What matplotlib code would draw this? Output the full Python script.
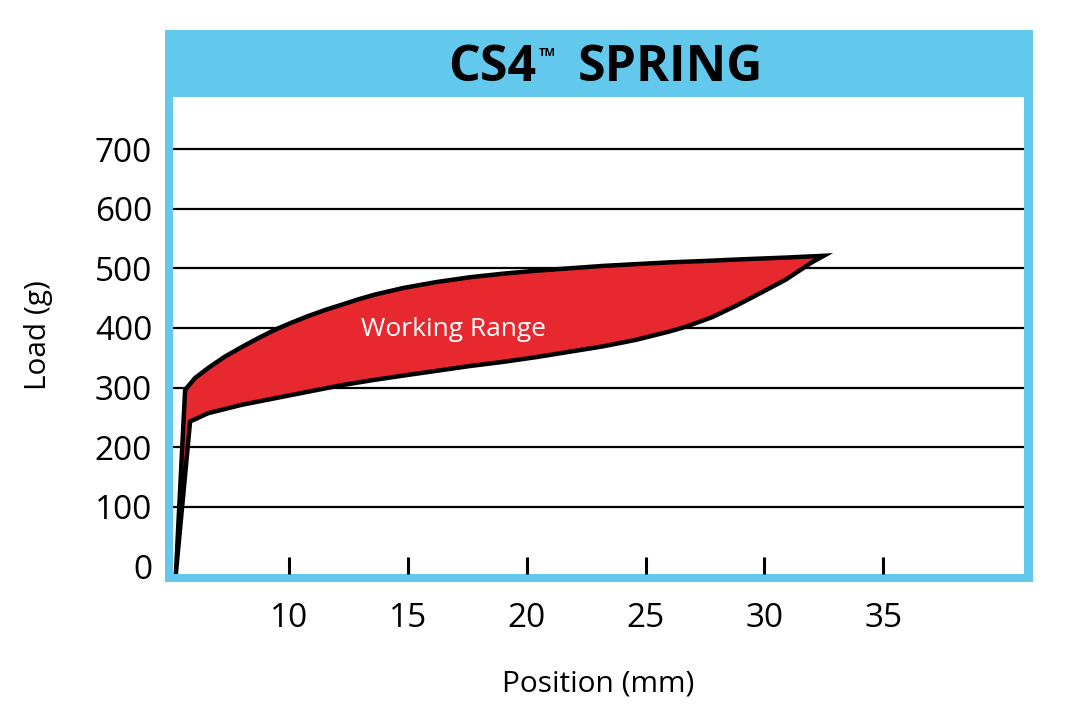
import numpy as np
import matplotlib
matplotlib.use('Agg')
import matplotlib.pyplot as plt
from matplotlib.patches import Rectangle

# load curves of the spring
upper_x = [5.61, 6.03, 6.59, 7.29, 8.00, 8.70, 9.40, 10.10, 10.80, 11.50, 12.21, 12.91, 13.61,
           14.8, 16.2, 17.6, 19.0, 20.4, 21.8, 23.2, 24.6, 26.0, 27.3, 29.0, 30.9, 32.5]
upper_y = [296, 316, 333, 352, 368, 383, 397, 409, 420, 430, 439, 448, 456,
           467, 477, 485, 491, 496, 500, 504, 507, 510, 512, 515, 518, 521]
lower_x = [5.82, 6.59, 8.0, 9.4, 10.8, 12.21, 13.61, 14.8, 16.2, 17.6, 19.0, 20.4, 21.8,
           23.2, 24.6, 26.0, 26.7, 27.8, 28.8, 30.0, 30.9, 32.0]
lower_y = [243, 257, 271, 282, 293, 304, 313, 320, 328, 336, 343, 351, 360,
           369, 380, 394, 402, 418, 437, 462, 481, 510]
start_x, start_y = 5.22, -13

x_ticks = [10, 15, 20, 25, 30, 35]
y_ticks = [0, 100, 200, 300, 400, 500, 600, 700]

blue = '#63C9EC'
red = '#E8282F'

plt.rcParams['font.family'] = ['Open Sans', 'DejaVu Sans']

W, H = 1065, 710
fig = plt.figure(figsize=(W / 100, H / 100), dpi=100)

# outer blue frame + title bar
fig.patches.append(Rectangle((165 / W, 1 - 582 / H), (1033 - 165) / W, (582 - 30) / H,
                             transform=fig.transFigure, facecolor=blue, edgecolor='none', zorder=-1))
fig.text(536 / W, 1 - 81 / H, 'CS4', ha='right', va='baseline', fontsize=36, fontweight='bold')
fig.text(539 / W, 1 - 56 / H, 'TM', ha='left', va='baseline', fontsize=8, fontweight='bold')
fig.text(578 / W, 1 - 81 / H, 'SPRING', ha='left', va='baseline', fontsize=36, fontweight='bold')

ax = fig.add_axes([173 / W, 1 - 574 / H, (1024 - 173) / W, (574 - 97) / H])
ax.set_facecolor('white')
for s in ax.spines.values():
    s.set_visible(False)

ax.set_xlim(5.10, 40.93)
ax.set_ylim(-12.9, 787.4)

for yv in y_ticks[1:]:
    ax.axhline(yv, color='black', lw=1.6, zorder=1)

px = [start_x] + upper_x + lower_x[::-1]
py = [start_y] + upper_y + lower_y[::-1]
ax.fill(px, py, facecolor=red, edgecolor='black', lw=3.2, joinstyle='miter', zorder=2)

ax.text(16.9, 397, 'Working Range', color='white', fontsize=19, ha='center', va='center', zorder=3)

ax.set_xticks(x_ticks)
ax.set_yticks(y_ticks)
ax.tick_params(axis='x', direction='in', length=12, width=2.2, color='black',
               labelsize=24, pad=20)
ax.tick_params(axis='y', length=0, labelsize=24, pad=15)

ax.set_xlabel('Position (mm)', fontsize=21.5, labelpad=25)
ax.set_ylabel('Load (g)', fontsize=21.5, labelpad=30)

fig.savefig('out.png', dpi=100)
